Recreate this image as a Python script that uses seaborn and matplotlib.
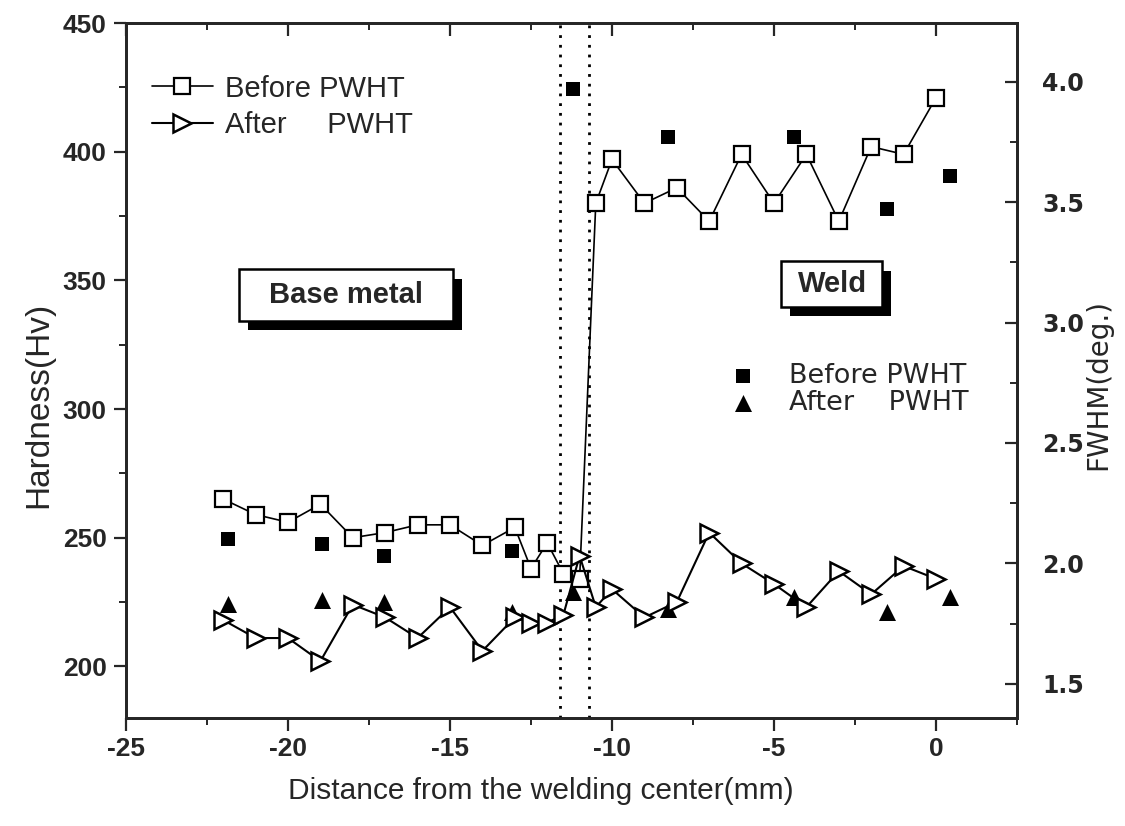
import matplotlib
matplotlib.use('Agg')
import matplotlib.pyplot as plt
import matplotlib.patheffects as pe
from matplotlib.patches import Rectangle
from matplotlib.ticker import MultipleLocator, FormatStrFormatter
import pandas as pd
import seaborn as sns

# Hardness profile (Hv)
dist = [-22, -21, -20, -19, -18, -17, -16, -15, -14, -13, -12.5, -12, -11.5,
        -11, -10.5, -10, -9, -8, -7, -6, -5, -4, -3, -2, -1, 0]
hv_before = [265, 259, 256, 263, 250, 252, 255, 255, 247, 254, 238, 248, 236,
             234, 380, 397, 380, 386, 373, 399, 380, 399, 373, 402, 399, 421]
hv_after = [218, 211, 211, 202, 224, 219, 211, 223, 206, 219, 217, 217, 220,
            243, 223, 230, 219, 225, 252, 240, 232, 223, 237, 228, 239, 234]

# FWHM (deg.) points, right axis
fwhm_dist = [-21.85, -18.95, -17.05, -13.1, -11.2, -8.28, -4.37, -1.5, 0.42]
fwhm_before = [2.10, 2.08, 2.03, 2.05, 3.97, 3.77, 3.77, 3.47, 3.61]
fwhm_after = [1.83, 1.85, 1.84, 1.80, 1.88, 1.81, 1.86, 1.80, 1.86]

# HAZ boundaries (dotted lines)
haz = [-11.6, -10.7]

sns.set_style('ticks')
plt.rcParams['font.family'] = ['Liberation Sans', 'DejaVu Sans']
plt.rcParams['axes.unicode_minus'] = False

df = pd.DataFrame({'dist': dist, 'before': hv_before, 'after': hv_after})

fig, ax = plt.subplots(figsize=(11.25, 8.26), dpi=100)
fig.subplots_adjust(left=0.112, right=0.904, bottom=0.131, top=0.972)

for xv in haz:
    ax.axvline(xv, color='k', lw=2, ls=(0, (1, 2.5)), zorder=1)

sns.lineplot(data=df, x='dist', y='before', ax=ax, color='k', lw=1.2,
             marker='s', markersize=11, markerfacecolor='white',
             mec='k', mew=1.6, sort=False, label='Before PWHT', zorder=3)
sns.lineplot(data=df, x='dist', y='after', ax=ax, color='k', lw=1.5,
             marker='>', markersize=13, markerfacecolor='white',
             mec='k', mew=1.8, sort=False, label='After     PWHT', zorder=3)

ax.set_xlim(-25, 2.5)
ax.set_ylim(180, 450)
ax.xaxis.set_major_locator(MultipleLocator(5))
ax.xaxis.set_minor_locator(MultipleLocator(2.5))
ax.yaxis.set_major_locator(MultipleLocator(50))
ax.yaxis.set_minor_locator(MultipleLocator(25))
ax.tick_params(which='major', direction='out', length=9, width=1.6,
               labelsize=19, pad=5)
ax.tick_params(which='minor', direction='out', length=5, width=1.4)
for lab in ax.get_xticklabels() + ax.get_yticklabels():
    lab.set_fontweight('bold')
for sp in ax.spines.values():
    sp.set_linewidth(2)

ax.set_xlabel('Distance from the welding center(mm)', fontsize=21.5)
ax.set_ylabel('Hardness(Hv)', fontsize=24)
ax.xaxis.set_label_coords(0.465, -0.085)
ax.yaxis.set_label_coords(-0.08, 0.45)

# top ticks pointing in
top = ax.secondary_xaxis('top')
top.xaxis.set_major_locator(MultipleLocator(5))
top.xaxis.set_minor_locator(MultipleLocator(2.5))
top.tick_params(which='major', direction='in', length=9, width=1.6, labeltop=False)
top.tick_params(which='minor', direction='in', length=5, width=1.4)

ax.legend(loc='upper left', bbox_to_anchor=(0.029, 0.926), frameon=False,
          fontsize=21, handlelength=2.1, handletextpad=0.4,
          labelspacing=0.3, borderpad=0, borderaxespad=0)

# right axis: FWHM
ax2 = ax.twinx()
sns.scatterplot(x=fwhm_dist, y=fwhm_before, ax=ax2, marker='s', s=95,
                color='k', linewidth=0, label='Before PWHT', zorder=4)
sns.scatterplot(x=fwhm_dist, y=fwhm_after, ax=ax2, marker='^', s=150,
                color='k', linewidth=0, label='After    PWHT', zorder=4)
ax2.set_ylim(1.359, 4.243)
ax2.yaxis.set_major_locator(MultipleLocator(0.5))
ax2.yaxis.set_minor_locator(MultipleLocator(0.25))
ax2.yaxis.set_major_formatter(FormatStrFormatter('%.1f'))
ax2.tick_params(which='major', direction='in', length=9, width=1.6,
                labelsize=17, pad=18)
ax2.tick_params(which='minor', direction='in', length=5, width=1.4)
for lab in ax2.get_yticklabels():
    lab.set_fontweight('bold')
    lab.set_family('DejaVu Sans')
ax2.set_ylabel('FWHM(deg.)', fontsize=20, family='DejaVu Sans')
ax2.yaxis.set_label_coords(1.075, 0.48)
for sp in ax2.spines.values():
    sp.set_linewidth(2)

ax2.legend(loc='upper left', bbox_to_anchor=(0.677, 0.511), frameon=False,
           prop={'family': 'DejaVu Sans', 'size': 19.5}, handlelength=1,
           handletextpad=1.2, labelspacing=0.05, borderpad=0, borderaxespad=0)

# region labels with drop shadow
shadow = [pe.SimplePatchShadow(offset=(6, -7), shadow_rgbFace='k', alpha=1),
          pe.Normal()]
boxes = [((-21.5, 334.4), 6.6, 19.9, 'Base metal', -18.2, 344.4),
         ((-4.77, 339.8), 3.11, 17.6, 'Weld', -3.2, 348.6)]
for xy, w, h, txt, tx, ty in boxes:
    r = Rectangle(xy, w, h, fc='white', ec='k', lw=1.8, zorder=5)
    r.set_path_effects(shadow)
    ax.add_patch(r)
    ax.text(tx, ty, txt, ha='center', va='center', fontsize=21,
            fontweight='bold', zorder=6)

ax.set_zorder(ax2.get_zorder() + 1)
ax.patch.set_visible(False)

plt.savefig('out.png', dpi=100)
